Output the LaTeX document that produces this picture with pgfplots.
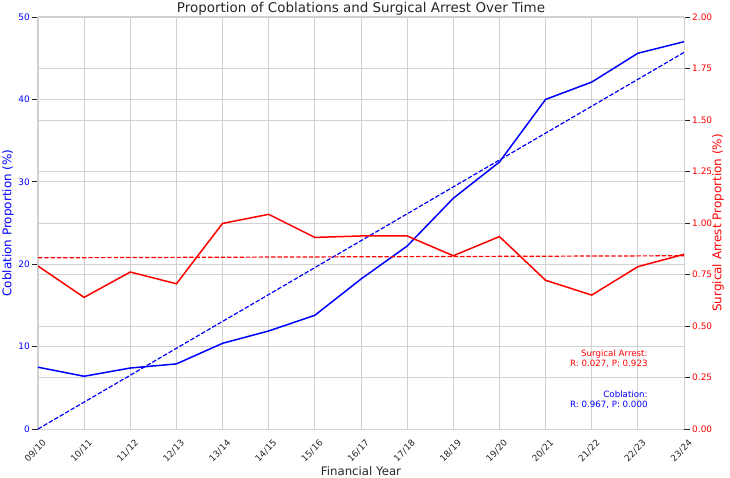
\documentclass[border=0pt]{standalone}
\usepackage{pgfplots}
\pgfplotsset{compat=1.18}
\usepackage{fontspec}
\setmainfont{DejaVu Sans}
\definecolor{gridgray}{RGB}{208,208,208}
\definecolor{txtgray}{RGB}{38,38,38}

\begin{document}
\begin{tikzpicture}
\pgfplotsset{
  every axis/.append style={
    scale only axis, width=646bp, height=412bp,
    xmin=0, xmax=14,
    /pgf/number format/assume math mode=true,
    tick align=outside, major tick length=6bp,
    tick style={txtgray, line width=0.8bp},
    axis line style={gridgray, line width=1bp},
    ticklabel style={font=\fontsize{9}{11}\selectfont},
  }
}
% left axis: coblation
\begin{axis}[
  axis y line*=left,
  ymin=0, ymax=50, ytick={0,10,20,30,40,50},
  yticklabel style={blue, inner sep=2bp},
  extra y ticks={6.25,12.5,18.75,25,31.25,37.5,43.75},
  extra y tick labels={},
  extra y tick style={major tick length=0pt, ymajorgrids=true},
  xtick={0,...,14}, xtick pos=bottom,
  xtick style={draw=none},
  xticklabels={09/10,10/11,11/12,12/13,13/14,14/15,15/16,16/17,17/18,18/19,19/20,20/21,21/22,22/23,23/24},
  xticklabel style={rotate=45, anchor=north east, txtgray, inner sep=1.5bp,
                    yshift=-4bp, xshift=1.5bp},
  xmajorgrids, ymajorgrids,
  grid style={gridgray, line width=0.8bp},
  title={Proportion of Coblations and Surgical Arrest Over Time},
  title style={at={(axis description cs:0.5,1)}, anchor=base, yshift=-1.7bp,
               txtgray, font=\fontsize{13.5}{15}\selectfont},
  xlabel={Financial Year},
  xlabel style={at={(axis description cs:0.5,0)}, anchor=base, yshift=-46bp,
                txtgray, font=\fontsize{11.8}{13}\selectfont},
  ylabel={Coblation Proportion (\%)},
  ylabel style={at={(axis description cs:-0.0464,0.5)}, anchor=center,
                blue, font=\fontsize{12}{13}\selectfont},
]
\addplot[blue, line width=1.5bp, no marks] coordinates {
  (0,7.5) (1,6.4) (2,7.4) (3,7.9) (4,10.4) (5,11.9) (6,13.8) (7,18.2)
  (8,22.2) (9,28.0) (10,32.4) (11,40.0) (12,42.1) (13,45.6) (14,47.0)
};
% linear trend
\addplot[blue, line width=1.2bp, dash pattern=on 4.4bp off 1.9bp, no marks] coordinates {
  (0,0.0) (14,45.7)
};
\end{axis}

% right axis: surgical arrest
\begin{axis}[
  axis y line*=right, axis x line=none,
  ymin=0, ymax=2, ytick={0,0.25,0.5,0.75,1,1.25,1.5,1.75,2},
  yticklabel style={red, inner sep=2bp, /pgf/number format/.cd, fixed, fixed zerofill, precision=2},
  ylabel={Surgical Arrest Proportion (\%)},
  ylabel style={at={(axis description cs:1.0526,0.5)}, anchor=center, rotate=0,
                red, font=\fontsize{12}{13}\selectfont},
]
\addplot[red, line width=1.5bp, no marks] coordinates {
  (0,0.791) (1,0.639) (2,0.762) (3,0.705) (4,0.998) (5,1.042) (6,0.930) (7,0.937)
  (8,0.937) (9,0.841) (10,0.934) (11,0.722) (12,0.650) (13,0.788) (14,0.848)
};
\addplot[red, line width=1.2bp, dash pattern=on 4.4bp off 1.9bp, no marks] coordinates {
  (0,0.831) (14,0.841)
};
\node[anchor=east, align=right, red, font=\fontsize{8.7}{10}\selectfont]
  at (axis description cs:0.949,0.170) {Surgical Arrest:\\R: 0.027, P: 0.923};
\node[anchor=east, align=right, blue, font=\fontsize{8.7}{10}\selectfont]
  at (axis description cs:0.949,0.0704) {Coblation:\\R: 0.967, P: 0.000};
\end{axis}

\pgfresetboundingbox
\useasboundingbox ([shift={(-38bp,-49bp)}]current axis.south west)
  rectangle ([shift={(46bp,17bp)}]current axis.north east);
\end{tikzpicture}
\end{document}
